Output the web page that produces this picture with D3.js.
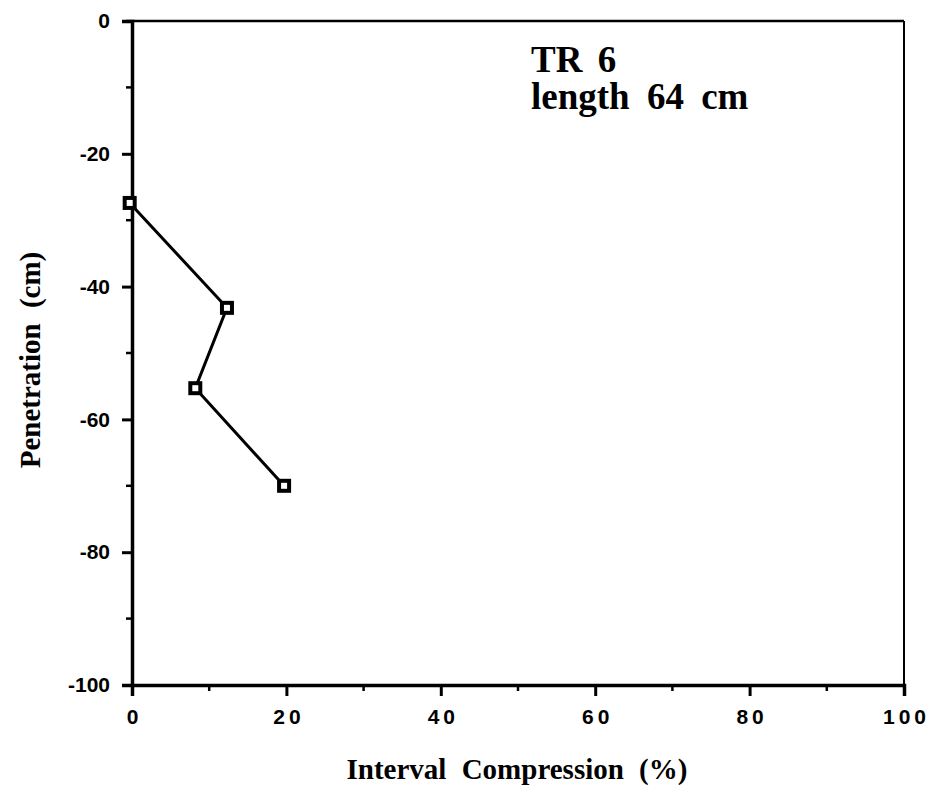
<!DOCTYPE html>
<html>
<head>
<meta charset="utf-8">
<script src="https://cdn.jsdelivr.net/npm/d3@7"></script>
<style>
  body { margin: 0; background: #fff; }
  .tick text { font-family: "Liberation Sans", Arial, sans-serif; font-weight: bold; }
  .ttl { font-family: "Liberation Serif", "Times New Roman", serif; font-weight: bold; fill: #000; }
</style>
</head>
<body>
<svg width="934" height="804"></svg>
<script>
var compression = [-0.3, 12.3, 8.2, 19.7];
var penetration = [-27.4, -43.2, -55.3, -70];
var xTicks = [0, 20, 40, 60, 80, 100];
var yTicks = [0, -20, -40, -60, -80, -100];

var svg = d3.select("svg");

var x = d3.scaleLinear().domain([0, 100]).range([132, 904]);
var y = d3.scaleLinear().domain([0, -100]).range([21, 685]);

var points = compression.map(function(c, i) { return { x: c, y: penetration[i] }; });

// frame top and right
svg.append("line")
    .attr("x1", x(0) - 6).attr("x2", x(100))
    .attr("y1", y(0)).attr("y2", y(0))
    .attr("stroke", "#000").attr("stroke-width", 2.5);
svg.append("line")
    .attr("x1", x(100)).attr("x2", x(100))
    .attr("y1", y(0)).attr("y2", y(-100))
    .attr("stroke", "#000").attr("stroke-width", 2);

// minor ticks
var minorX = d3.range(10, 100, 20);
var minorY = d3.range(-10, -100, -20);
svg.append("g").selectAll("line").data(minorX).enter().append("line")
    .attr("x1", function(d) { return x(d); }).attr("x2", function(d) { return x(d); })
    .attr("y1", y(-100)).attr("y2", y(-100) + 6)
    .attr("stroke", "#000").attr("stroke-width", 2.5);
svg.append("g").selectAll("line").data(minorY).enter().append("line")
    .attr("x1", x(0) - 6).attr("x2", x(0))
    .attr("y1", function(d) { return y(d); }).attr("y2", function(d) { return y(d); })
    .attr("stroke", "#000").attr("stroke-width", 2.5);

var fmt = function(d) { return String(d); }; // plain hyphen minus

var xAxis = svg.append("g")
    .attr("transform", "translate(0," + y(-100) + ")")
    .call(d3.axisBottom(x).tickValues(xTicks).tickFormat(fmt).tickSize(11).tickPadding(13));
xAxis.selectAll("text").style("font-size", "21px").attr("letter-spacing", "4px").attr("dx", "2px");

var yAxis = svg.append("g")
    .attr("transform", "translate(" + x(0) + ",0)")
    .call(d3.axisLeft(y).tickValues(yTicks).tickFormat(fmt).tickSize(10).tickPadding(12));
yAxis.selectAll("text").style("font-size", "21px");

svg.selectAll(".domain").attr("stroke", "#000").attr("stroke-width", 3.5);
svg.selectAll(".tick line").attr("stroke", "#000").attr("stroke-width", 3);
svg.selectAll(".tick text").attr("fill", "#000");

// data line
var line = d3.line()
    .x(function(d) { return x(d.x); })
    .y(function(d) { return y(d.y); });

svg.append("path")
    .datum(points)
    .attr("d", line)
    .attr("fill", "none")
    .attr("stroke", "#000")
    .attr("stroke-width", 3);

svg.append("g").selectAll("rect").data(points).enter().append("rect")
    .attr("x", function(d) { return x(d.x) - 5; })
    .attr("y", function(d) { return y(d.y) - 5; })
    .attr("width", 10).attr("height", 10)
    .attr("fill", "#fff")
    .attr("stroke", "#000")
    .attr("stroke-width", 4);

// titles
svg.append("text").attr("class", "ttl")
    .attr("x", 531).attr("y", 72)
    .style("font-size", "37px")
    .attr("word-spacing", "6px")
    .text("TR 6");
svg.append("text").attr("class", "ttl")
    .attr("x", 531).attr("y", 109)
    .style("font-size", "37px")
    .attr("word-spacing", "8px")
    .text("length 64 cm");

svg.append("text").attr("class", "ttl")
    .attr("x", 517).attr("y", 779)
    .attr("text-anchor", "middle")
    .style("font-size", "29px")
    .attr("word-spacing", "8px")
    .text("Interval Compression (%)");

svg.append("text").attr("class", "ttl")
    .attr("transform", "translate(40,360) rotate(-90)")
    .attr("text-anchor", "middle")
    .style("font-size", "29px")
    .attr("word-spacing", "8px")
    .text("Penetration (cm)");
</script>
</body>
</html>
